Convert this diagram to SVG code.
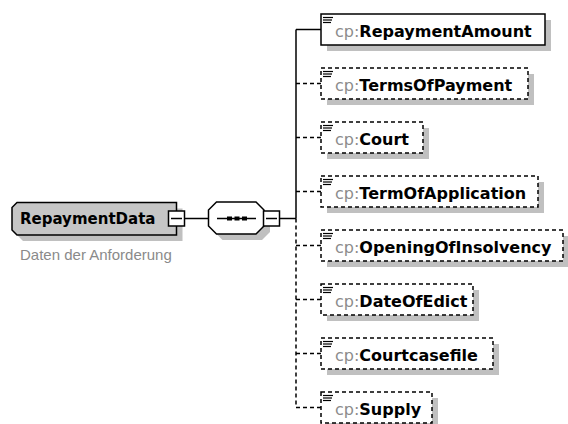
<svg xmlns="http://www.w3.org/2000/svg" width="568" height="424" viewBox="0 0 568 424">
<defs>
<style>
.shadow{fill:#c0c0c0;stroke:none}
.box{fill:#fff;stroke:#000;stroke-width:1.5}
.gbox{fill:#c6c6c6;stroke:#000;stroke-width:1.5}
.opt{stroke-dasharray:4,3}
.conn{fill:none;stroke:#000;stroke-width:1.5}
.dash{stroke-dasharray:4,3}
.name{font-family:"DejaVu Sans",sans-serif;font-size:16px;font-weight:bold;fill:#000}
.pfx{font-weight:normal;fill:#8c8c8c}
.icon{stroke:#000;stroke-width:1.2}
.desc{font-family:"Liberation Sans",Arial,sans-serif;font-size:15px;fill:#8a8a8a}
</style>
<g id="ico"><line class="icon" x1="2" y1="3.5" x2="12" y2="3.5"/><line class="icon" x1="2" y1="6" x2="11" y2="6"/><line class="icon" x1="2" y1="8.5" x2="10" y2="8.5"/></g>
</defs>
<rect x="0" y="0" width="568" height="424" fill="#fff"/>

<g id="connectors">
<line class="conn" x1="185" y1="218.5" x2="208.5" y2="218.5"/>
<line class="conn" x1="279.5" y1="218.5" x2="296" y2="218.5"/>
<line class="conn" x1="296" y1="29.5" x2="296" y2="218.5"/>
<line class="conn dash" x1="296" y1="218.5" x2="296" y2="407.5"/>
<line class="conn" x1="296" y1="29.5" x2="321" y2="29.5"/>
<line class="conn dash" x1="296" y1="83.5" x2="321" y2="83.5"/>
<line class="conn dash" x1="296" y1="137.5" x2="321" y2="137.5"/>
<line class="conn dash" x1="296" y1="191.5" x2="321" y2="191.5"/>
<line class="conn dash" x1="296" y1="245.5" x2="321" y2="245.5"/>
<line class="conn dash" x1="296" y1="299.5" x2="321" y2="299.5"/>
<line class="conn dash" x1="296" y1="353.5" x2="321" y2="353.5"/>
<line class="conn dash" x1="296" y1="407.5" x2="321" y2="407.5"/>
</g>

<g id="RepaymentData">
<polygon class="shadow" points="23,208.5 182.5,208.5 182.5,241 23,241 18,236 18,213.5"/>
<polygon class="gbox" points="17,202.5 176.5,202.5 176.5,235 17,235 12,230 12,207.5"/>
<text class="name" x="20" y="223.5" style="font-size:15px">RepaymentData</text>
<rect class="box" x="168.5" y="211" width="16" height="15"/>
<line class="conn" x1="171" y1="218.5" x2="182" y2="218.5"/>
<text class="desc" x="20" y="260">Daten der Anforderung</text>
</g>

<g id="sequence">
<polygon class="shadow" points="222.5,208 262,208 270,216 270,232 262,240 222.5,240 214.5,232 214.5,216"/>
<polygon class="box" points="216.5,202 256,202 264,210 264,226 256,234 216.5,234 208.5,226 208.5,210"/>
<line class="conn" x1="217" y1="218.5" x2="256" y2="218.5"/>
<rect x="227" y="216.5" width="5" height="4" fill="#000"/>
<rect x="234.5" y="216.5" width="5" height="4" fill="#000"/>
<rect x="242" y="216.5" width="5" height="4" fill="#000"/>
<rect class="box" x="263.5" y="211" width="16" height="15"/>
<line class="conn" x1="266" y1="218.5" x2="277" y2="218.5"/>
</g>

<g id="RepaymentAmount">
<rect class="shadow" x="327" y="20" width="224" height="31"/>
<rect class="box" x="321" y="14" width="224" height="31"/>
<use href="#ico" x="321" y="14"/>
<text class="name" x="335" y="36.5"><tspan class="pfx">cp:</tspan>RepaymentAmount</text>
</g>
<g id="TermsOfPayment">
<rect class="shadow" x="327" y="74" width="207" height="31"/>
<rect class="box opt" x="321" y="68" width="207" height="31"/>
<use href="#ico" x="321" y="68"/>
<text class="name" x="335" y="90.5"><tspan class="pfx">cp:</tspan>TermsOfPayment</text>
</g>
<g id="Court">
<rect class="shadow" x="327" y="128" width="102" height="31"/>
<rect class="box opt" x="321" y="122" width="102" height="31"/>
<use href="#ico" x="321" y="122"/>
<text class="name" x="335" y="144.5"><tspan class="pfx">cp:</tspan>Court</text>
</g>
<g id="TermOfApplication">
<rect class="shadow" x="327" y="182" width="217" height="31"/>
<rect class="box opt" x="321" y="176" width="217" height="31"/>
<use href="#ico" x="321" y="176"/>
<text class="name" x="335" y="198.5"><tspan class="pfx">cp:</tspan>TermOfApplication</text>
</g>
<g id="OpeningOfInsolvency">
<rect class="shadow" x="327" y="236" width="242" height="31"/>
<rect class="box opt" x="321" y="230" width="242" height="31"/>
<use href="#ico" x="321" y="230"/>
<text class="name" x="335" y="252.5"><tspan class="pfx">cp:</tspan>OpeningOfInsolvency</text>
</g>
<g id="DateOfEdict">
<rect class="shadow" x="327" y="290" width="152" height="31"/>
<rect class="box opt" x="321" y="284" width="152" height="31"/>
<use href="#ico" x="321" y="284"/>
<text class="name" x="335" y="306.5"><tspan class="pfx">cp:</tspan>DateOfEdict</text>
</g>
<g id="Courtcasefile">
<rect class="shadow" x="327" y="344" width="172" height="31"/>
<rect class="box opt" x="321" y="338" width="172" height="31"/>
<use href="#ico" x="321" y="338"/>
<text class="name" x="335" y="360.5"><tspan class="pfx">cp:</tspan>Courtcasefile</text>
</g>
<g id="Supply">
<rect class="shadow" x="327" y="398" width="111" height="31"/>
<rect class="box opt" x="321" y="392" width="111" height="31"/>
<use href="#ico" x="321" y="392"/>
<text class="name" x="335" y="414.5"><tspan class="pfx">cp:</tspan>Supply</text>
</g>
</svg>
